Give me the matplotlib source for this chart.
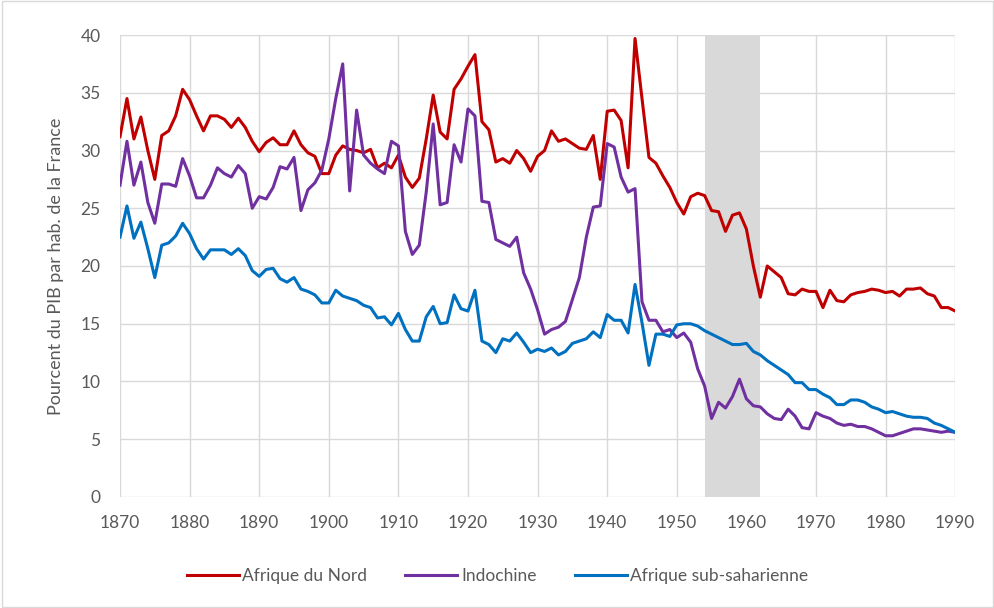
import numpy as np
import matplotlib.pyplot as plt
from matplotlib.patches import Rectangle

plt.rcParams['font.family'] = ['Lato', 'DejaVu Sans']

years = list(range(1870, 1991))

afrique_nord = [
    31.2, 34.5, 31.0, 32.9, 30.0, 27.5, 31.3, 31.7, 33.0, 35.3,
    34.4, 33.0, 31.7, 33.0, 33.0, 32.7, 32.0, 32.8, 32.0, 30.8,
    29.9, 30.7, 31.1, 30.5, 30.5, 31.7, 30.5, 29.8, 29.5, 28.0,
    28.0, 29.6, 30.4, 30.1, 30.0, 29.8, 30.1, 28.5, 28.9, 28.5,
    29.6, 27.7, 26.8, 27.6, 31.0, 34.8, 31.6, 31.0, 35.3, 36.2,
    37.3, 38.3, 32.5, 31.8, 29.0, 29.3, 28.9, 30.0, 29.3, 28.2,
    29.5, 30.0, 31.7, 30.8, 31.0, 30.6, 30.2, 30.1, 31.3, 27.5,
    33.4, 33.5, 32.6, 28.5, 39.7, 34.5, 29.4, 28.9, 27.8, 26.8,
    25.5, 24.5, 26.0, 26.3, 26.1, 24.8, 24.7, 23.0, 24.4, 24.6,
    23.2, 20.0, 17.3, 20.0, 19.5, 19.0, 17.6, 17.5, 18.0, 17.8,
    17.8, 16.4, 17.9, 17.0, 16.9, 17.5, 17.7, 17.8, 18.0, 17.9,
    17.7, 17.8, 17.4, 18.0, 18.0, 18.1, 17.6, 17.4, 16.4, 16.4,
    16.1,
]

indochine = [
    27.0, 30.8, 27.0, 29.0, 25.5, 23.7, 27.1, 27.1, 26.9, 29.3,
    27.8, 25.9, 25.9, 27.0, 28.5, 28.0, 27.7, 28.7, 28.0, 25.0,
    26.0, 25.8, 26.8, 28.6, 28.4, 29.4, 24.8, 26.6, 27.2, 28.3,
    31.0, 34.5, 37.5, 26.5, 33.5, 29.6, 28.9, 28.4, 28.0, 30.8,
    30.4, 23.0, 21.0, 21.8, 26.4, 32.3, 25.3, 25.5, 30.5, 29.0,
    33.6, 33.0, 25.6, 25.5, 22.3, 22.0, 21.7, 22.5, 19.4, 18.0,
    16.2, 14.1, 14.5, 14.7, 15.2, 17.1, 19.0, 22.5, 25.1, 25.2,
    30.6, 30.3, 27.7, 26.4, 26.7, 16.9, 15.3, 15.3, 14.3, 14.5,
    13.8, 14.2, 13.4, 11.1, 9.6, 6.8, 8.2, 7.7, 8.7, 10.2,
    8.5, 7.9, 7.8, 7.2, 6.8, 6.7, 7.6, 7.0, 6.0, 5.9,
    7.3, 7.0, 6.8, 6.4, 6.2, 6.3, 6.1, 6.1, 5.9, 5.6,
    5.3, 5.3, 5.5, 5.7, 5.9, 5.9, 5.8, 5.7, 5.6, 5.7,
    5.6,
]

afrique_sub = [
    22.5, 25.2, 22.4, 23.8, 21.5, 19.0, 21.8, 22.0, 22.6, 23.7,
    22.8, 21.5, 20.6, 21.4, 21.4, 21.4, 21.0, 21.5, 20.9, 19.6,
    19.1, 19.7, 19.8, 18.9, 18.6, 19.0, 18.0, 17.8, 17.5, 16.8,
    16.8, 17.9, 17.4, 17.2, 17.0, 16.6, 16.4, 15.5, 15.6, 14.9,
    15.9, 14.5, 13.5, 13.5, 15.6, 16.5, 15.0, 15.1, 17.5, 16.3,
    16.1, 17.9, 13.5, 13.2, 12.5, 13.7, 13.5, 14.2, 13.4, 12.5,
    12.8, 12.6, 12.9, 12.3, 12.6, 13.3, 13.5, 13.7, 14.3, 13.8,
    15.8, 15.3, 15.3, 14.2, 18.4, 15.1, 11.4, 14.1, 14.1, 13.9,
    14.9, 15.0, 15.0, 14.8, 14.4, 14.1, 13.8, 13.5, 13.2, 13.2,
    13.3, 12.6, 12.3, 11.8, 11.4, 11.0, 10.6, 9.9, 9.9, 9.3,
    9.3, 8.9, 8.6, 8.0, 8.0, 8.4, 8.4, 8.2, 7.8, 7.6,
    7.3, 7.4, 7.2, 7.0, 6.9, 6.9, 6.8, 6.4, 6.2, 5.9,
    5.6,
]

band_start, band_end = 1954, 1962

fig = plt.figure(figsize=(9.95, 6.08), dpi=100)
ax = fig.add_axes([0.1206, 0.1826, 0.8394, 0.7598])

ax.axvspan(band_start, band_end, color="#D9D9D9", zorder=1, lw=0)
ax.plot(years, afrique_nord, color="#C00000", lw=2.2, label="Afrique du Nord", zorder=3)
ax.plot(years, indochine, color="#7030A0", lw=2.2, label="Indochine", zorder=3)
ax.plot(years, afrique_sub, color="#0070C0", lw=2.2, label="Afrique sub-saharienne", zorder=3)

ax.set_xlim(1870, 1990)
ax.set_ylim(0, 40)
ax.set_xticks(range(1870, 1991, 10))
ax.set_yticks(range(0, 41, 5))
ax.grid(True, color="#D9D9D9", lw=1.0, zorder=0)
ax.set_axisbelow(True)
for s in ax.spines.values():
    s.set_visible(False)
ax.tick_params(length=0, labelsize=12.5, labelcolor="#595959")
ax.tick_params(axis="x", pad=13)
ax.tick_params(axis="y", pad=14)
ax.set_ylabel("Pourcent du PIB par hab. de la France", fontsize=13, color="#595959", labelpad=12)

fig.legend(loc="center", bbox_to_anchor=(0.5, 0.052), ncol=3, frameon=False,
           fontsize=12.5, handlelength=3, columnspacing=2.2, handletextpad=0.2,
           labelcolor="#595959")

fig.patches.append(Rectangle((0.002, 0.002), 0.996, 0.996, transform=fig.transFigure,
                             fill=False, edgecolor="#D9D9D9", lw=1.0))

fig.savefig("out.png", dpi=100)
